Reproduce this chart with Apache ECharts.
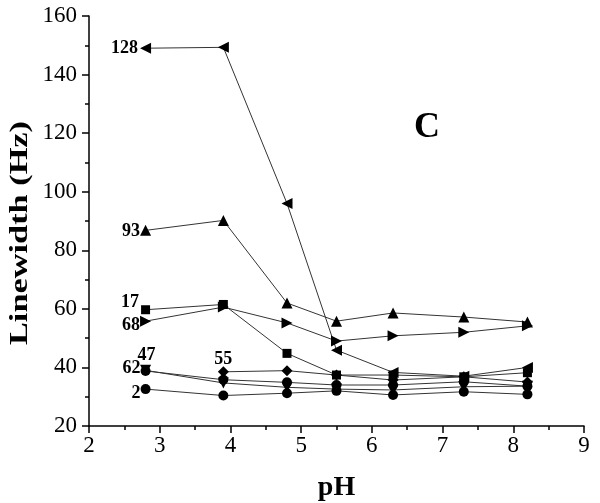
<!DOCTYPE html>
<html><head><meta charset="utf-8">
<script src="https://cdn.jsdelivr.net/npm/echarts@6/dist/echarts.min.js"></script>
<style>html,body{margin:0;padding:0;background:#fff}#c{width:600px;height:503px}</style>
</head><body><div id="c"></div>
<script>
const pH = [2.8, 3.9, 4.8, 5.5, 6.3, 7.3, 8.2];
const r128 = [149, 149.3, 96, 45.9, 38.3, 37, 40];
const r93 = [86.8, 90.2, 62, 55.8, 58.6, 57.2, 55.5];
const r17 = [59.7, 61.5, 44.8, 37.4, 37.4, 36.8, 38.2];
const r68 = [55.8, 60.6, 55.2, 49, 50.8, 52, 54.2];
const r55 = [null, 38.5, 38.9, 37.4, 35.7, 36.8, 35];
const r62 = [38.8, 35.8, 34.9, 34, 34, 35.1, 33.6];
const r47 = [39, 34.7, 33.2, 32.6, 32.3, 33.4, 33.6];
const r2 = [32.6, 30.4, 31.2, 32, 30.6, 31.7, 30.8];
const xTicks = [2, 3, 4, 5, 6, 7, 8, 9];
const yTicks = [20, 40, 60, 80, 100, 120, 140, 160];
const yName = 'Linewidth (Hz)';
const xName = 'pH';
const panel = 'C';

const serif = '"Liberation Serif", "DejaVu Serif", serif';
const lab = (txt, pos, off, dist) => ({show: true, formatter: txt, position: pos, offset: off || [0, 0],
  distance: dist === undefined ? 5 : dist,
  color: '#000', fontFamily: serif, fontWeight: 'bold', fontSize: 18});

function mk(name, vals, symbol, rot, size, labelIdx, labelCfg) {
  const data = [];
  vals.forEach((v, i) => {
    if (v === null) return;
    const d = {value: [pH[i], v]};
    if (i === labelIdx) d.label = labelCfg;
    data.push(d);
  });
  return {name, type: 'line', data, symbol, symbolRotate: rot, symbolSize: size,
    showAllSymbol: true, z: 3,
    lineStyle: {color: '#333', width: 1}, itemStyle: {color: '#000'},
    label: {show: false}, emphasis: {disabled: true}, animation: false};
}

const chart = echarts.init(document.getElementById('c'), null, {renderer: 'canvas'});
chart.setOption({
  animation: false,
  grid: {left: 89, right: 16, top: 16, bottom: 77, containLabel: false, outerBoundsMode: 'none'},
  xAxis: {type: 'value', min: 2, max: 9, interval: 1,
    axisLine: {show: true, lineStyle: {color: '#000', width: 1.5}},
    axisTick: {show: true, inside: false, length: 7, lineStyle: {color: '#000', width: 1.5}},
    minorTick: {show: true, splitNumber: 2, length: 4, lineStyle: {color: '#000', width: 1.5}},
    splitLine: {show: false},
    axisLabel: {color: '#000', fontFamily: serif, fontSize: 23, margin: 8,
      formatter: v => xTicks.includes(v) ? String(v) : ''},
    name: xName, nameLocation: 'middle', nameGap: 48,
    nameTextStyle: {color: '#000', fontFamily: serif, fontWeight: 'bold', fontSize: 28}},
  yAxis: {type: 'value', min: 20, max: 160, interval: 20,
    axisLine: {show: true, lineStyle: {color: '#000', width: 1.5}},
    axisTick: {show: true, inside: false, length: 7, lineStyle: {color: '#000', width: 1.5}},
    minorTick: {show: true, splitNumber: 2, length: 4, lineStyle: {color: '#000', width: 1.5}},
    splitLine: {show: false},
    axisLabel: {color: '#000', fontFamily: serif, fontSize: 23, margin: 12,
      formatter: v => yTicks.includes(v) ? String(v) : ''}},
  graphic: [
    {type: 'text', left: 414, top: 110,
      style: {text: panel, fill: '#000', font: 'bold 36px "Liberation Serif", serif'}},
    {type: 'text', x: 20, y: 233, rotation: Math.PI / 2, scaleX: 1.32,
      style: {text: yName, fill: '#000', font: 'bold 26px "Liberation Serif", serif',
        textAlign: 'center', textVerticalAlign: 'middle'}}
  ],
  series: [
    mk('128', r128, 'triangle', 90, 11, 0, lab('128', 'left', [3, 0])),
    mk('93', r93, 'triangle', 0, 11, 0, lab('93', 'left', [5, 1])),
    mk('17', r17, 'rect', 0, 9, 0, lab('17', 'left', [3, -7])),
    mk('68', r68, 'triangle', -90, 11, 0, lab('68', 'left', [5, 4])),
    mk('55', r55, 'diamond', 0, 11, 1, lab('55', 'top', [0, 4], 2)),
    mk('62', r62, 'circle', 0, 10, 0, lab('62', 'left', [5, -3])),
    mk('47', r47, 'triangle', 180, 11, 0, lab('47', 'top', [1, 1], 2)),
    mk('2', r2, 'circle', 0, 10, 0, lab('2', 'left', [5, 4]))
  ]
});
</script></body></html>
